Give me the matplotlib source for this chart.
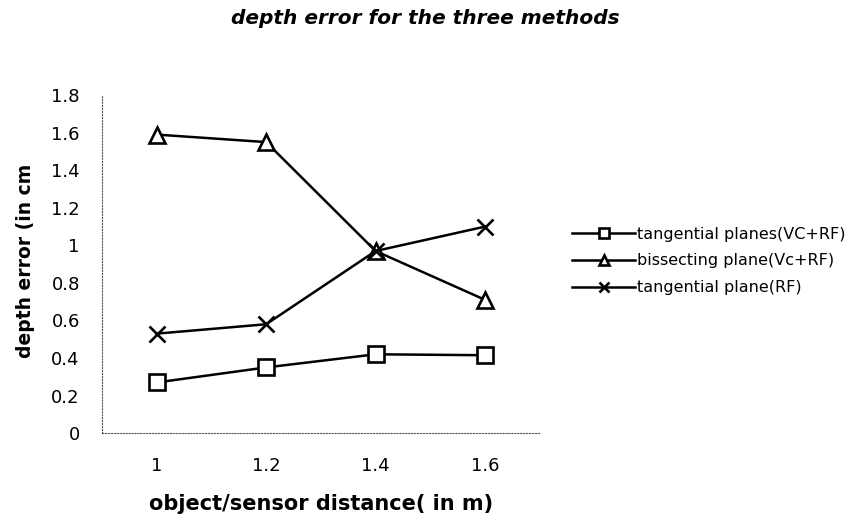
import matplotlib.pyplot as plt

plt.rcParams['font.family'] = ['DejaVu Sans']

distances = ['1', '1.2', '1.4', '1.6']
tangential_vc_rf = [0.27, 0.35, 0.42, 0.415]
bissecting_vc_rf = [1.59, 1.55, 0.97, 0.71]
tangential_rf = [0.53, 0.58, 0.97, 1.10]

fig = plt.figure(figsize=(8.5, 5.2), dpi=100)
ax = fig.add_axes([0.12, 0.167, 0.515, 0.65])

x = range(len(distances))
ax.plot(x, tangential_vc_rf, color='black', lw=1.8, marker='s', ms=11,
        mfc='white', mec='black', mew=1.9, label='tangential planes(VC+RF)')
ax.plot(x, bissecting_vc_rf, color='black', lw=1.8, marker='^', ms=12,
        mfc='white', mec='black', mew=1.9, label='bissecting plane(Vc+RF)')
ax.plot(x, tangential_rf, color='black', lw=1.8, marker='x', ms=12,
        mec='black', mew=1.9, label='tangential plane(RF)')

ax.set_xlim(-0.5, 3.5)
ax.set_ylim(0, 1.8)
ax.set_xticks(list(x))
ax.set_xticklabels(distances)
ax.set_yticks([0, 0.2, 0.4, 0.6, 0.8, 1, 1.2, 1.4, 1.6, 1.8])
ax.set_yticklabels(['0', '0.2', '0.4', '0.6', '0.8', '1', '1.2', '1.4', '1.6', '1.8'])
ax.tick_params(axis='y', length=0, labelsize=13, pad=16)
ax.tick_params(axis='x', length=0, labelsize=13, pad=17)

for side in ['top', 'right']:
    ax.spines[side].set_visible(False)
for side in ['left', 'bottom']:
    ax.spines[side].set_linestyle(':')
    ax.spines[side].set_color('#555555')
    ax.spines[side].set_linewidth(0.8)

ax.set_ylabel('depth error (in cm', fontsize=13.5, fontweight='bold')
ax.yaxis.set_label_coords(-0.153, 0.509)
ax.set_xlabel('object/sensor distance( in m)', fontsize=15, fontweight='bold', labelpad=14)
fig.text(0.5, 1 - 19 / 520, 'depth error for the three methods', ha='center', va='center',
         fontsize=14.5, fontweight='bold', style='italic')

ax.legend(loc='center left', bbox_to_anchor=(566 / 850, 1 - 261 / 520),
          bbox_transform=fig.transFigure, frameon=False,
          fontsize=11.5, handlelength=3.9, handletextpad=0.15, labelspacing=0.75,
          markerscale=0.65, borderpad=0.4, borderaxespad=0)

fig.savefig('out.png', dpi=100)
